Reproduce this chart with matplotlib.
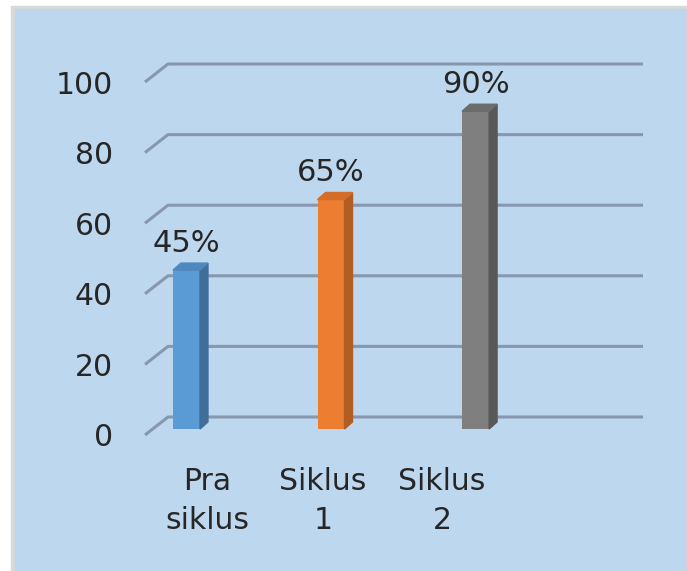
import matplotlib
matplotlib.use('Agg')
import matplotlib.pyplot as plt
from matplotlib.patches import Polygon, Rectangle

categories = ['Pra\nsiklus', 'Siklus\n1', 'Siklus\n2']
values = [45, 65, 90]
labels = ['45%', '65%', '90%']
yticks = [0, 20, 40, 60, 80, 100]

front = ['#5B9BD5', '#ED7D31', '#7F7F7F']
side = ['#3F6E98', '#B25D24', '#585858']
top = ['#4F88BF', '#D46D29', '#6C6C6C']
grid_c = '#8797AE'
bg = '#BDD7EE'

fig = plt.figure(figsize=(6.87, 5.71), dpi=100)
fig.patches.append(Rectangle((11/687, 0), 1, (571-6)/571, transform=fig.transFigure,
                             color='#D9D9D9', zorder=-2))
fig.patches.append(Rectangle((15/687, 0), 1, (571-9)/571, transform=fig.transFigure,
                             color=bg, zorder=-1))

ax = fig.add_axes([145/687, (571-435)/571, 475/687, 353/571])
ax.set_facecolor('none')
xmin, xmax = -0.287, 2.999
ax.set_xlim(xmin, xmax)
ax.set_ylim(0, 100)
for s in ax.spines.values():
    s.set_visible(False)

# perspective offsets (back wall, bar depth, bar floor)
gdx, gdy = 0.159, 5.1
bdx, bdy = 0.055, 2.0
base = 1.7
w = 0.187

for v in yticks:
    ax.plot([xmin, xmin + gdx, xmax + gdx], [v, v + gdy, v + gdy],
            color=grid_c, lw=2.2, clip_on=False, zorder=1, solid_capstyle='butt')

xs = range(len(values))
ax.bar(xs, values, bottom=base, width=w, color=front, zorder=3, clip_on=False)
for i, v in enumerate(values):
    r = i + w / 2
    l = i - w / 2
    t = base + v
    ax.add_patch(Polygon([(r, base), (r + bdx, base + bdy), (r + bdx, t + bdy), (r, t)],
                         closed=True, color=side[i], zorder=3, clip_on=False))
    ax.add_patch(Polygon([(l, t), (l + bdx, t + bdy), (r + bdx, t + bdy), (r, t)],
                         closed=True, color=top[i], zorder=3, clip_on=False))
    ax.annotate(labels[i], (i, t + bdy), xytext=(0, 4), textcoords='offset points',
                ha='center', va='bottom', fontsize=22, color='#262626')

ax.set_yticks(yticks)
ax.set_yticklabels([str(v) for v in yticks], fontsize=21.5, color='#262626')
ax.set_xticks([0.142, 0.945, 1.768])
ax.set_xticklabels(categories, fontsize=21.5, color='#262626', linespacing=1.42)
ax.tick_params(axis='y', length=0, pad=23)
ax.tick_params(axis='x', length=0, pad=23)

fig.savefig('out.png', dpi=100)
